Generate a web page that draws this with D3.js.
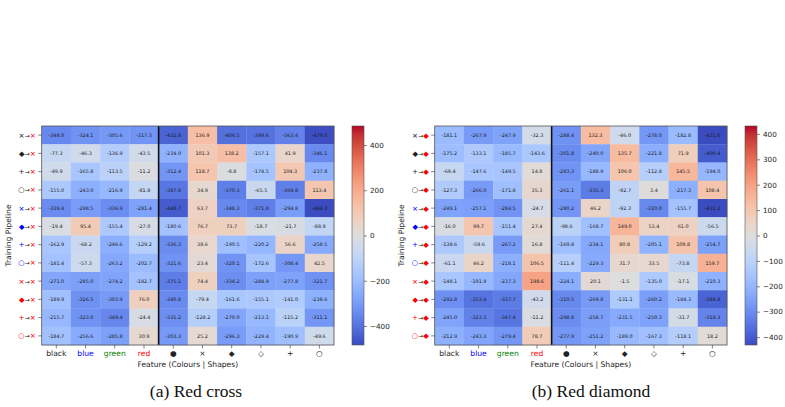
<!DOCTYPE html>
<html>
<head>
<meta charset="utf-8">
<script src="https://cdn.jsdelivr.net/npm/d3@7"></script>
<style>
  body { margin: 0; background: #fff; }
  svg { display: block; font-family: "DejaVu Sans", sans-serif; }
</style>
</head>
<body>
<div id="chart"></div>
<script>
// Feature columns: 4 colours then 6 shapes
const features = ["black", "blue", "green", "red", "●", "×", "◆", "◇", "+", "○"];
const featureColours = ["#222", "#0000ff", "#008000", "#ff0000", "#222", "#222", "#222", "#222", "#222", "#222"];

// Training pipelines (source shape / colour -> target)
const sourceShapes = ["×", "◆", "+", "○", "×", "◆", "+", "○", "×", "◆", "+", "○"];
const sourceColours = ["#222", "#222", "#222", "#222", "#0000ff", "#0000ff", "#0000ff", "#0000ff", "#ff0000", "#ff0000", "#ff0000", "#ff0000"];

const valuesCross = [
  [-348.0, -324.1, -305.6, -317.3, -432.8, 136.9, -404.5, -399.6, -363.4, -479.0],
  [-77.3, -46.3, -136.9, -43.5, -234.0, 101.3, 138.2, -157.1, 41.9, -346.1],
  [-49.9, -165.8, -113.5, -11.2, -312.4, 118.7, -8.8, -174.5, 104.3, -237.8],
  [-155.0, -243.0, -216.9, -81.8, -387.8, 34.9, -370.3, -65.5, -369.8, 113.4],
  [-339.4, -298.5, -336.9, -281.4, -448.7, 63.7, -348.3, -371.8, -294.8, -484.3],
  [-19.4, 95.4, -155.4, -27.0, -180.6, 76.7, 73.7, -18.7, -21.7, -88.9],
  [-162.9, -68.2, -246.6, -129.2, -336.3, 38.6, -190.5, -220.2, 56.6, -258.5],
  [-181.4, -57.3, -263.2, -202.7, -321.6, 23.4, -320.1, -172.6, -308.4, 42.5],
  [-271.0, -285.0, -274.2, -182.7, -375.1, 74.4, -334.2, -284.9, -277.8, -321.7],
  [-189.9, -326.5, -303.9, 76.0, -340.8, -79.4, -161.6, -155.1, -141.0, -238.6],
  [-215.7, -323.0, -349.4, -24.4, -331.2, -128.2, -270.0, -213.1, -115.2, -311.1],
  [-184.7, -256.6, -285.8, 30.9, -303.3, 25.2, -296.3, -229.4, -190.9, -49.6]
];

const valuesDiamond = [
  [-181.1, -267.9, -247.9, -32.3, -288.4, 132.3, -46.0, -278.0, -182.8, -431.0],
  [-175.2, -133.1, -185.7, -143.6, -301.8, -240.0, 135.7, -221.8, 71.9, -400.4],
  [-69.4, -147.6, -149.5, 14.8, -283.3, -188.9, 106.0, -112.8, 145.5, -194.0],
  [-127.3, -266.0, -171.8, 35.3, -261.1, -335.3, -92.7, 3.4, -217.3, 108.4],
  [-249.1, -257.1, -284.5, -24.7, -280.2, 46.2, -92.3, -310.0, -155.7, -431.2],
  [-16.0, 99.7, -151.4, 27.4, -98.6, -168.7, 149.0, 53.4, 61.0, -56.5],
  [-138.6, -59.6, -267.2, 16.8, -169.8, -234.1, 80.8, -205.1, 109.8, -254.7],
  [-61.1, 46.2, -218.1, 106.5, -111.4, -229.3, 31.7, 33.5, -73.8, 159.7],
  [-148.1, -191.9, -237.3, 198.6, -224.1, 20.1, -1.5, -135.0, -17.1, -210.3],
  [-292.8, -353.4, -337.7, -43.2, -310.5, -269.8, -131.1, -260.2, -184.3, -384.8],
  [-245.0, -323.3, -347.4, -11.2, -298.8, -258.7, -231.5, -250.3, -31.7, -319.3],
  [-212.9, -243.3, -279.4, 78.7, -277.9, -251.2, -189.0, -167.3, -118.1, 18.2]
];

const cbTicksCross = [-400, -200, 0, 200, 400];
const cbTicksDiamond = [-400, -300, -200, -100, 0, 100, 200, 300, 400];

const panels = [
  { values: valuesCross, target: "×", title: "(a) Red cross", ticks: cbTicksCross, dx: 0, titleX: 196 },
  { values: valuesDiamond, target: "◆", title: "(b) Red diamond", ticks: cbTicksDiamond, dx: 393, titleX: 591 }
];

// matplotlib "coolwarm"
const coolwarmStops = [
  [59,76,192],[68,90,204],[77,104,215],[87,117,225],[98,130,234],[108,142,241],[119,154,247],[130,165,251],
  [141,176,254],[152,185,255],[163,194,255],[174,201,253],[184,208,249],[194,213,244],[204,217,238],[213,219,230],
  [221,221,221],[229,216,209],[236,211,197],[241,204,184],[245,196,172],[247,187,160],[247,177,148],[247,166,137],
  [244,154,123],[241,141,111],[236,127,99],[229,112,88],[222,96,77],[213,80,66],[203,62,56],[192,40,47],[180,4,38]
];
const coolwarm = d3.scaleLinear()
  .domain(coolwarmStops.map((d, i) => i / (coolwarmStops.length - 1)))
  .range(coolwarmStops.map(d => `rgb(${d[0]},${d[1]},${d[2]})`))
  .interpolate(d3.interpolateRgb);

const W = 785, H = 407;
const hm = { left: 41.7, right: 334, top: 126, bottom: 345 };
const minus = d => (d < 0 ? "\u2212" + Math.abs(d) : String(d));

const svg = d3.select("#chart").append("svg").attr("width", W).attr("height", H);
const defs = svg.append("defs");

panels.forEach((p, pi) => {
  const g = svg.append("g").attr("transform", `translate(${p.dx},0)`);
  const vmax = d3.max(p.values.flat(), Math.abs);
  const norm = d3.scaleLinear().domain([-vmax, vmax]).range([0, 1]);

  const x = d3.scaleBand().domain(d3.range(features.length)).range([hm.left, hm.right]);
  const y = d3.scaleBand().domain(d3.range(sourceShapes.length)).range([hm.top, hm.bottom]);

  const cells = p.values.flatMap((row, r) => row.map((v, c) => ({ r, c, v })));

  g.selectAll("rect.cell")
    .data(cells)
    .join("rect")
    .attr("class", "cell")
    .attr("x", d => x(d.c))
    .attr("y", d => y(d.r))
    .attr("width", x.bandwidth() + 0.3)
    .attr("height", y.bandwidth() + 0.3)
    .attr("fill", d => coolwarm(norm(d.v)));

  g.selectAll("text.val")
    .data(cells)
    .join("text")
    .attr("class", "val")
    .attr("x", d => x(d.c) + x.bandwidth() / 2)
    .attr("y", d => y(d.r) + y.bandwidth() / 2 + 1.8)
    .attr("text-anchor", "middle")
    .attr("font-size", "4.9px")
    .attr("fill", "#1a1a1a")
    .text(d => d.v.toFixed(1));

  // separator between colour and shape features
  g.append("line")
    .attr("x1", x(4)).attr("x2", x(4))
    .attr("y1", hm.top).attr("y2", hm.bottom)
    .attr("stroke", "#111").attr("stroke-width", 1.6);

  g.append("rect")
    .attr("x", hm.left).attr("y", hm.top)
    .attr("width", hm.right - hm.left).attr("height", hm.bottom - hm.top)
    .attr("fill", "none").attr("stroke", "#555").attr("stroke-width", 0.8);

  // x axis
  const xAxis = g.append("g")
    .attr("transform", `translate(0,${hm.bottom})`)
    .call(d3.axisBottom(x).tickSize(3.5).tickFormat(i => features[i]));
  xAxis.select(".domain").remove();
  xAxis.selectAll(".tick line").attr("stroke", "#333").attr("stroke-width", 0.6);
  xAxis.selectAll(".tick text")
    .attr("font-size", "7.6px")
    .attr("font-family", "DejaVu Sans")
    .attr("dy", "0.65em")
    .attr("fill", i => featureColours[i]);

  g.append("text")
    .attr("x", (hm.left + hm.right) / 2)
    .attr("y", 366.5)
    .attr("text-anchor", "middle")
    .attr("font-size", "7.6px")
    .attr("fill", "#222")
    .text("Feature (Colours | Shapes)");

  // y axis
  const yAxis = g.append("g")
    .attr("transform", `translate(${hm.left},0)`)
    .call(d3.axisLeft(y).tickSize(3.5).tickFormat(""));
  yAxis.select(".domain").remove();
  yAxis.selectAll(".tick line").attr("stroke", "#333").attr("stroke-width", 0.6);
  const lab = yAxis.selectAll(".tick")
    .append("text")
    .attr("x", -6)
    .attr("dy", "0.34em")
    .attr("text-anchor", "end")
    .attr("font-size", "7.2px")
    .attr("font-family", "DejaVu Sans");
  lab.append("tspan").attr("fill", i => sourceColours[i]).text(i => sourceShapes[i]);
  lab.append("tspan").attr("fill", "#222").attr("font-size", "6px").text("→");
  lab.append("tspan").attr("fill", "#ff0000").text(p.target);

  g.append("text")
    .attr("transform", `translate(10.5,${(hm.top + hm.bottom) / 2}) rotate(-90)`)
    .attr("text-anchor", "middle")
    .attr("font-size", "7.6px")
    .attr("fill", "#222")
    .text("Training Pipeline");

  // colour bar
  const cbX = hm.right + 18, cbW = 12;
  const gradId = "cb-grad-" + pi;
  const grad = defs.append("linearGradient")
    .attr("id", gradId)
    .attr("x1", 0).attr("y1", 1).attr("x2", 0).attr("y2", 0);
  d3.range(0, 1.0001, 1 / 64).forEach(t => {
    grad.append("stop").attr("offset", t).attr("stop-color", coolwarm(t));
  });
  g.append("rect")
    .attr("x", cbX).attr("y", hm.top)
    .attr("width", cbW).attr("height", hm.bottom - hm.top)
    .attr("fill", `url(#${gradId})`)
    .attr("stroke", "#555").attr("stroke-width", 0.6);

  const cbScale = d3.scaleLinear().domain([-vmax, vmax]).range([hm.bottom, hm.top]);
  const cbAxis = g.append("g")
    .attr("transform", `translate(${cbX + cbW},0)`)
    .call(d3.axisRight(cbScale).tickValues(p.ticks).tickSize(3).tickFormat(minus));
  cbAxis.select(".domain").remove();
  cbAxis.selectAll(".tick line").attr("stroke", "#333").attr("stroke-width", 0.6);
  cbAxis.selectAll(".tick text")
    .attr("font-size", "7.2px")
    .attr("font-family", "DejaVu Sans")
    .attr("fill", "#222");

  // sub-caption
  g.append("text")
    .attr("x", p.titleX - p.dx)
    .attr("y", 397)
    .attr("text-anchor", "middle")
    .attr("font-family", "Liberation Serif, serif")
    .attr("font-size", "17.5px")
    .attr("fill", "#111")
    .text(p.title);
});
</script>
</body>
</html>
